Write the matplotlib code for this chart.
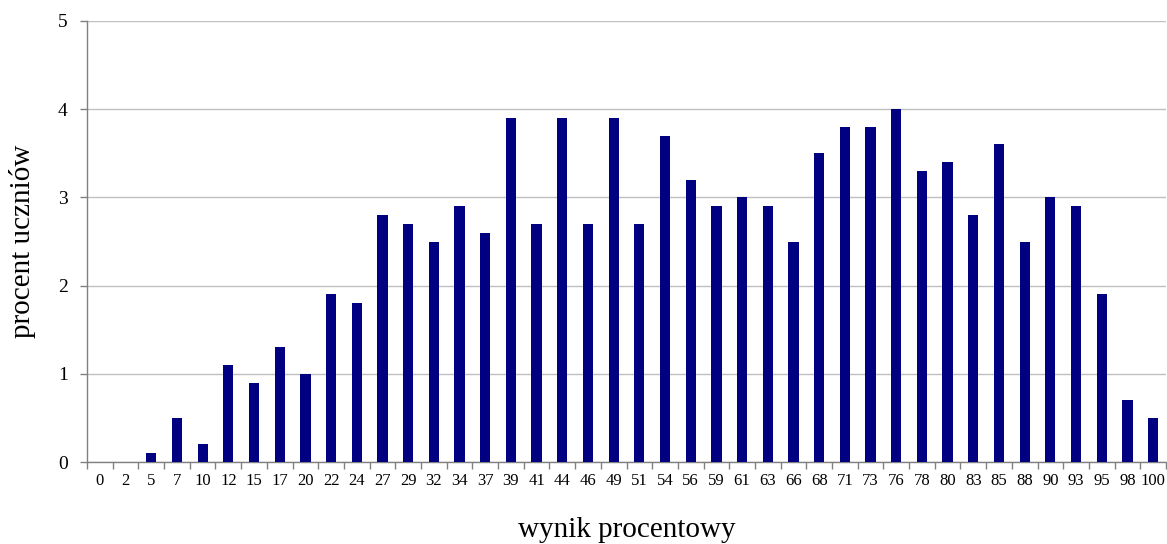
import numpy as np
import matplotlib.pyplot as plt

plt.rcParams['font.family'] = ['Liberation Serif', 'DejaVu Serif']

# data
wynik = ['0', '2', '5', '7', '10', '12', '15', '17', '20', '22', '24', '27', '29', '32',
         '34', '37', '39', '41', '44', '46', '49', '51', '54', '56', '59', '61', '63', '66',
         '68', '71', '73', '76', '78', '80', '83', '85', '88', '90', '93', '95', '98', '100']
procent = [0, 0, 0.1, 0.5, 0.2, 1.1, 0.9, 1.3, 1.0, 1.9, 1.8, 2.8, 2.7, 2.5,
           2.9, 2.6, 3.9, 2.7, 3.9, 2.7, 3.9, 2.7, 3.7, 3.2, 2.9, 3.0, 2.9, 2.5,
           3.5, 3.8, 3.8, 4.0, 3.3, 3.4, 2.8, 3.6, 2.5, 3.0, 2.9, 1.9, 0.7, 0.5]

fig = plt.figure(figsize=(11.67, 5.44), dpi=100)
ax = fig.add_axes([0.0746, 0.1507, 0.9245, 0.8107])

x = np.arange(len(wynik))
ax.bar(x, procent, width=0.4, color='#000080', zorder=3)

ax.set_xlim(-0.5, len(wynik) - 0.5)
ax.set_ylim(0, 5)
ax.set_yticks(range(6))
ax.yaxis.grid(True, color='#c0c0c0', linewidth=1, zorder=0)

# category labels centred, tick marks at the boundaries
ax.set_xticks(x)
ax.set_xticklabels(wynik, fontsize=12)
ax.tick_params(axis='x', length=0, pad=8)
ax.set_xticks(np.arange(len(wynik) + 1) - 0.5, minor=True)
ax.tick_params(axis='x', which='minor', length=5, color='#808080', width=1)
ax.tick_params(axis='y', labelsize=14, length=5, color='#808080', width=1, pad=9)

for s in ['top', 'right']:
    ax.spines[s].set_visible(False)
for s in ['left', 'bottom']:
    ax.spines[s].set_color('#808080')
    ax.spines[s].set_linewidth(1)

ax.set_xlabel('wynik procentowy', fontsize=21, labelpad=20)
ax.set_ylabel('procent uczniów', fontsize=21, labelpad=16)

plt.savefig('out.png', dpi=100)
